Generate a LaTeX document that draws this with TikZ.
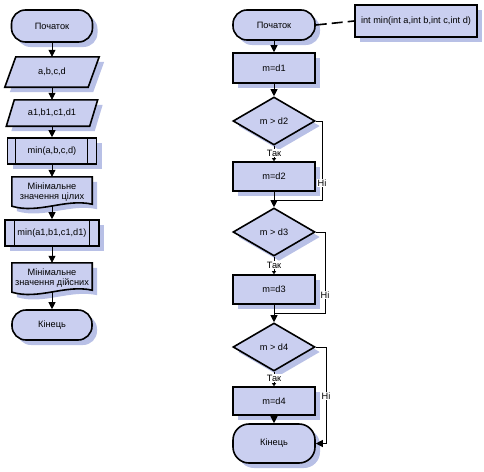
\documentclass[tikz,border=0pt]{standalone}
\usepackage{fontspec}
\setmainfont{Liberation Sans}
\usetikzlibrary{arrows.meta,shapes.geometric,backgrounds}
\definecolor{fillc}{RGB}{202,207,240}
\definecolor{shc}{RGB}{184,192,230}
\tikzset{
  every node/.style={font=\fontsize{9.2}{10}\selectfont},
  shd/.style={preaction={fill=shc,transform canvas={shift={(5pt,-5pt)}}}},
  shp/.style={draw, line width=1.6pt, fill=fillc, shd},
  box/.style={rectangle, inner sep=0pt, align=center},
  term/.style={shp, box, rounded corners=14pt},
  proc/.style={shp, box},
  dec/.style={shp, diamond, inner sep=0pt},
  arr/.style={line width=0.8pt, -{Triangle[width=7pt,length=7pt]}},
  sarr/.style={line width=0.8pt, -{Triangle[width=4pt,length=3pt]}},
  ln/.style={line width=0.8pt},
  lbl/.style={fill=white, inner sep=0.6pt}
}
\begin{document}
\begin{tikzpicture}[x=1pt,y=-1pt]
\useasboundingbox (0,0) rectangle (484,471);
% ---------------- left column ----------------
\node[term, minimum width=81pt, minimum height=32pt] (s1) at (52,26) {Початок};
\node[box, minimum width=94pt, minimum height=30pt] (io1) at (52,72) {a,b,c,d};
\node[box, minimum width=91pt, minimum height=26pt] (io2) at (52,113) {a1,b1,c1,d1};
\node[proc, minimum width=89pt, minimum height=26pt] (p1) at (52,151) {min(a,b,c,d)};
\node[box, minimum width=80pt, minimum height=31pt] (d1) at (52,192.5) {Мінімальне\\значення цілих};
\node[proc, minimum width=94pt, minimum height=26pt] (p2) at (52,233) {min(a1,b1,c1,d1)};
\node[box, minimum width=80pt, minimum height=31pt] (d2) at (52,278.5) {Мінімальне\\значення дійсних};
\node[term, minimum width=80pt, minimum height=30pt] (e1) at (52,325) {Кінець};
\begin{pgfonlayer}{background}
\draw[shp] (io1.south west) -- ([xshift=11pt]io1.north west) -- (io1.north east) -- ([xshift=-11pt]io1.south east) -- cycle;
\draw[shp] (io2.south west) -- ([xshift=8pt]io2.north west) -- (io2.north east) -- ([xshift=-8pt]io2.south east) -- cycle;
\draw[shp] ([yshift=2pt]d1.south west) -- (d1.north west) -- (d1.north east) -- ([yshift=4pt]d1.south east)
  .. controls ([xshift=-27pt,yshift=10pt]d1.south east) and ([xshift=27pt,yshift=-6pt]d1.south west) .. ([yshift=2pt]d1.south west) -- cycle;
\draw[shp] ([yshift=2pt]d2.south west) -- (d2.north west) -- (d2.north east) -- ([yshift=4pt]d2.south east)
  .. controls ([xshift=-27pt,yshift=10pt]d2.south east) and ([xshift=27pt,yshift=-6pt]d2.south west) .. ([yshift=2pt]d2.south west) -- cycle;
\end{pgfonlayer}
\draw[ln] ([xshift=9pt]p1.north west) -- ([xshift=9pt]p1.south west);
\draw[ln] ([xshift=-10pt]p1.north east) -- ([xshift=-10pt]p1.south east);
\draw[ln] ([xshift=10pt]p2.north west) -- ([xshift=10pt]p2.south west);
\draw[ln] ([xshift=-10pt]p2.north east) -- ([xshift=-10pt]p2.south east);
\draw[arr] (s1.south) -- (io1.north);
\draw[arr] (io1.south) -- (io2.north);
\draw[arr] (io2.south) -- (p1.north);
\draw[arr] (p1.south) -- (d1.north);
\draw[arr] ([yshift=2pt]d1.south) -- (p2.north);
\draw[arr] (p2.south) -- (d2.north);
\draw[arr] ([yshift=2pt]d2.south) -- (e1.north);
% ---------------- right column ----------------
\node[term, minimum width=82pt, minimum height=30pt] (s2) at (274,25) {Початок};
\node[proc, minimum width=122pt, minimum height=32pt] (hdr) at (416,21) {int min(int a,int b,int c,int d)};
\node[proc, minimum width=82pt, minimum height=30pt] (b1) at (274,68) {m=d1};
\node[dec, minimum width=82pt, minimum height=48pt] (q1) at (274,121) {m > d2};
\node[proc, minimum width=82pt, minimum height=29pt] (b2) at (274,176.5) {m=d2};
\node[dec, minimum width=82pt, minimum height=48pt] (q2) at (274,232) {m > d3};
\node[proc, minimum width=82pt, minimum height=29pt] (b3) at (274,289.5) {m=d3};
\node[dec, minimum width=82pt, minimum height=48pt] (q3) at (274,347) {m > d4};
\node[proc, minimum width=82pt, minimum height=28pt] (b4) at (274,401) {m=d4};
\node[term, minimum width=82pt, minimum height=39pt, rounded corners=16pt] (e2) at (274,443.5) {Кінець};
\coordinate (n1) at (322,200);
\coordinate (n2) at (325,313);
\coordinate (n3) at (326,0);
\draw[line width=1.6pt, dash pattern=on 11pt off 5pt] (s2.east) -- (hdr.west);
\draw[arr] (s2.south) -- (b1.north);
\draw[arr] (b1.south) -- (q1.north);
\draw[sarr] (q1.south) -- (b2.north);
\draw[arr] (b2.south) -- (q2.north);
\draw[ln] (q1.east) -| (n1) -- (n1 -| q2.north);
\draw[sarr] (q2.south) -- (b3.north);
\draw[arr] (b3.south) -- (q3.north);
\draw[ln] (q2.east) -| (n2) -- (n2 -| q3.north);
\draw[sarr] (q3.south) -- (b4.north);
\draw[arr] (b4.south) -- (e2.north);
\draw[arr] (q3.east) -- (q3.east -| n3) |- (e2.east);
\node[lbl] (t1) at (274,153) {Так};
\node[lbl] (t2) at (274,265) {Так};
\node[lbl] (t3) at (274,378) {Так};
\node[lbl] (h1) at (322,183) {Ні};
\node[lbl] (h2) at (325,295) {Ні};
\node[lbl] (h3) at (326,396) {Ні};
\end{tikzpicture}
\end{document}
